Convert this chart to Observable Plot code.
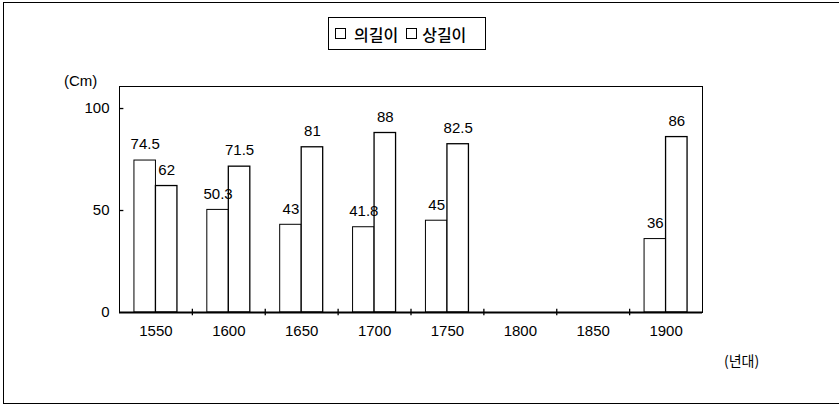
<!DOCTYPE html>
<html>
<head>
<meta charset="utf-8">
<script src="https://cdn.jsdelivr.net/npm/d3@7"></script>
<script src="https://cdn.jsdelivr.net/npm/@observablehq/plot@0.6"></script>
<style>
  html, body { margin: 0; padding: 0; background: #fff; }
  #wrap { position: relative; width: 839px; height: 407px; overflow: hidden; font-family: "Liberation Sans", Arial, "Noto Sans CJK KR", sans-serif; color: #000; }
  #border { position: absolute; left: 3px; top: 2px; width: 840px; height: 402px; border-top: 1.5px solid #000; border-left: 1.5px solid #000; border-bottom: 1.5px solid #000; box-sizing: border-box; }
  #chart { position: absolute; left: 0; top: 0; }
  #legend { position: absolute; left: 328px; top: 17px; width: 158px; height: 33px; border: 1.5px solid #000; box-sizing: border-box; display: flex; align-items: center; padding-left: 6px; font-family: "Noto Sans CJK KR", sans-serif; font-size: 16px; font-weight: 500; background: #fff; }
  .sq { display: inline-block; width: 9px; height: 9px; border: 1.5px solid #000; }
  .lab { position: absolute; font-size: 15px; line-height: 1; }
</style>
</head>
<body>
<div id="wrap">
  <div id="border"></div>
  <div id="chart"></div>
  <div id="legend"><span class="sq"></span><span style="margin-left:8px">의길이</span><span class="sq" style="margin-left:8px"></span><span style="margin-left:5px">상길이</span></div>
  <div class="lab" style="left:64px; top:73px;">(Cm)</div>
  <div class="lab" style="left:724px; top:353px; font-family:'Noto Sans CJK KR', sans-serif; font-size:14px;">(년대)</div>
</div>
<script>
// Data
const years   = [1550, 1600, 1650, 1700, 1750, 1800, 1850, 1900];
const seriesA = [74.5, 50.3, 43, 41.8, 45, null, null, 36];   // 의길이
const seriesB = [62, 71.5, 81, 88, 82.5, null, null, 86];     // 상길이
const yTicks  = [0, 50, 100];
const boundaries = years.slice(1).map(y => y - 25);

const barSpan = 14.75; // bar width in year units (layout)

const dataA = years.map((year, i) => ({year, value: seriesA[i]})).filter(d => d.value != null);
const dataB = years.map((year, i) => ({year, value: seriesB[i]})).filter(d => d.value != null);
const fmt = v => String(v);

const chart = Plot.plot({
  width: 839,
  height: 407,
  marginLeft: 119,
  marginRight: 137,
  marginTop: 86,
  marginBottom: 95,
  style: {fontFamily: '"Liberation Sans", Arial, sans-serif', fontSize: "15px", background: "transparent", color: "#000"},
  x: {type: "linear", domain: [1525, 1925]},
  y: {domain: [0, 110.8]},
  marks: [
    Plot.frame({stroke: "#000", strokeWidth: 1}),
    Plot.rectY(dataA, {x1: d => d.year - barSpan, x2: d => d.year, y: "value", fill: "white", stroke: "#000", strokeWidth: 1}),
    Plot.rectY(dataB, {x1: d => d.year, x2: d => d.year + barSpan, y: "value", fill: "white", stroke: "#000", strokeWidth: 1.3}),
    Plot.text(dataA, {x: d => d.year - barSpan / 2, y: "value", text: d => fmt(d.value), dy: -16, fontSize: 15, fill: "#000"}),
    Plot.text(dataB, {x: d => d.year + barSpan / 2, y: "value", text: d => fmt(d.value), dy: -16, fontSize: 15, fill: "#000"}),
    Plot.ruleY([0], {stroke: "#000", strokeWidth: 1.8}),
    Plot.ruleX(boundaries, {y1: -1.6, y2: 1.6, stroke: "#000", strokeWidth: 1.3}),
    Plot.ruleY(yTicks.slice(1), {x1: 1525, x2: 1528, stroke: "#000", strokeWidth: 1.3}),
    Plot.axisY({ticks: yTicks, tickSize: 0, tickPadding: 10, label: null, fontSize: 15}),
    Plot.axisX({ticks: years, tickSize: 0, tickPadding: 13, tickFormat: d => `${d}`, label: null, fontSize: 15})
  ]
});
document.getElementById("chart").appendChild(chart);
</script>
</body>
</html>
